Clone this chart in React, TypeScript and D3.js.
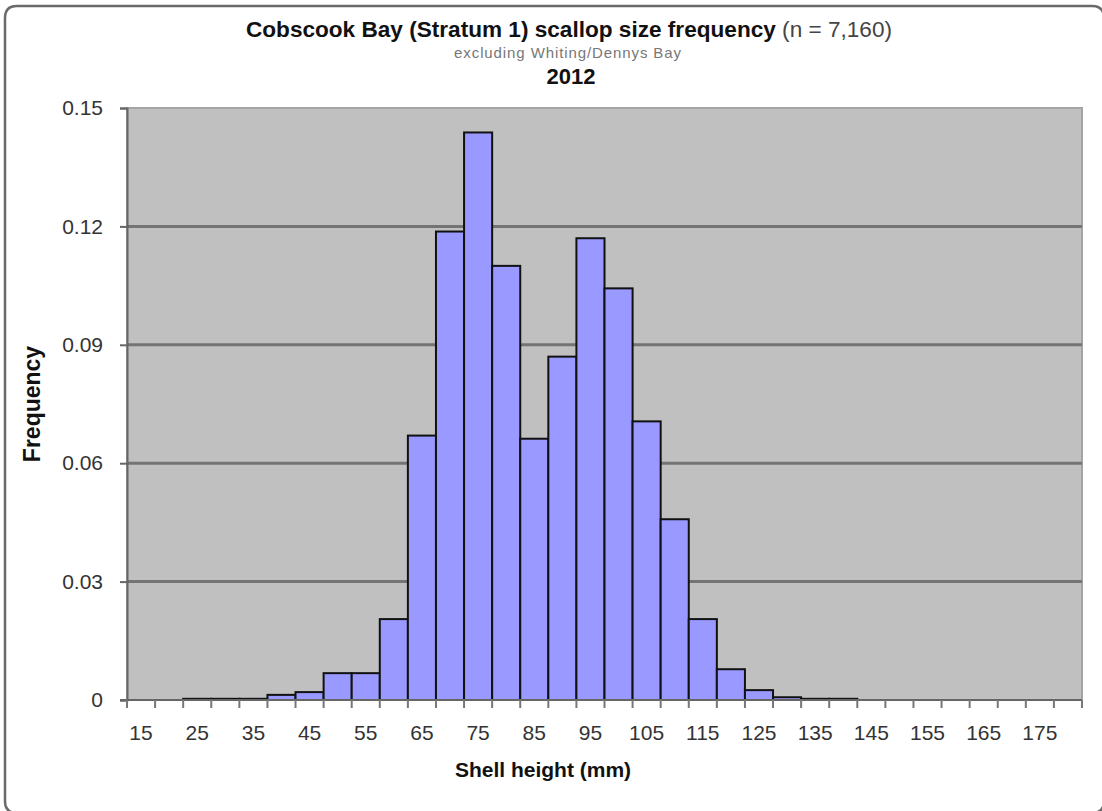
import React, { useEffect, useRef } from "react";
import * as d3 from "d3";

// shell height bins (mm) and their frequency
const bins = [15, 20, 25, 30, 35, 40, 45, 50, 55, 60, 65, 70, 75, 80, 85, 90, 95, 100, 105, 110, 115, 120, 125, 130, 135, 140, 145, 150, 155, 160, 165, 170, 175, 180];
const freq = [0, 0, 0.0003, 0.0003, 0.0003, 0.0013, 0.002, 0.0068, 0.0068, 0.0205, 0.067, 0.1187, 0.1438, 0.11, 0.0662, 0.087, 0.117, 0.1043, 0.0706, 0.0458, 0.0205, 0.0078, 0.0025, 0.0007, 0.0003, 0.0003, 0, 0, 0, 0, 0, 0, 0, 0];
const yTicks = [0, 0.03, 0.06, 0.09, 0.12, 0.15];

const W = 1102;
const H = 811;
const FONT = "Arial, 'Liberation Sans', sans-serif";

export default function App() {
  const ref = useRef<SVGSVGElement>(null);

  useEffect(() => {
    const svg = d3.select(ref.current);
    svg.selectAll("*").remove();

    const margin = { top: 108, left: 127, right: 20, bottom: 111 };
    const width = W - margin.left - margin.right;
    const height = H - margin.top - margin.bottom;

    // outer chart frame (right and bottom edges fall just outside the picture, like the original crop)
    const fr = W + 2;
    const fb = H + 2;
    svg.append("path")
      .attr("d", `M5,18 Q5,6 17,6 L${fr - 12},6 Q${fr},6 ${fr},18 L${fr},${fb - 12} Q${fr},${fb} ${fr - 12},${fb} L17,${fb} Q5,${fb} 5,${fb - 12} Z`)
      .attr("fill", "#fff")
      .attr("stroke", "#6a6a6a")
      .attr("stroke-width", 2.5);

    const g = svg.append("g").attr("transform", `translate(${margin.left},${margin.top})`);

    const x = d3.scaleBand<number>().domain(bins).range([0, width]).padding(0);
    const y = d3.scaleLinear().domain([0, 0.15]).range([height, 0]);

    g.append("rect")
      .attr("width", width).attr("height", height)
      .attr("fill", "#c0c0c0")
      .attr("stroke", "#a4a4a4")
      .attr("stroke-width", 2);

    g.append("g")
      .selectAll("line")
      .data(yTicks.slice(1, -1))
      .join("line")
      .attr("x1", 0).attr("x2", width)
      .attr("y1", (d) => y(d)).attr("y2", (d) => y(d))
      .attr("stroke", "#747474")
      .attr("stroke-width", 3);

    g.append("g")
      .selectAll("rect")
      .data(bins.map((b, i) => ({ b, v: freq[i] })).filter((d) => d.v > 0))
      .join("rect")
      .attr("x", (d) => x(d.b)!)
      .attr("width", x.bandwidth())
      .attr("y", (d) => y(d.v))
      .attr("height", (d) => height - y(d.v))
      .attr("fill", "#9999ff")
      .attr("stroke", "#111")
      .attr("stroke-width", 2);

    // y axis
    const yAxis = g.append("g")
      .call(d3.axisLeft(y).tickValues(yTicks).tickFormat((d) => (d === 0 ? "0" : d3.format(".2f")(d as number))).tickSize(7).tickPadding(17));
    yAxis.select(".domain").attr("stroke", "#666").attr("stroke-width", 2);
    yAxis.selectAll(".tick line").attr("stroke", "#666").attr("stroke-width", 2);
    yAxis.selectAll("text")
      .attr("font-family", FONT)
      .attr("font-size", 21)
      .attr("fill", "#333");

    // x axis: tick at every bin edge, label on every other bin
    const xAxisG = g.append("g").attr("transform", `translate(0,${height})`);
    xAxisG.append("line")
      .attr("x1", -7).attr("x2", width)
      .attr("stroke", "#666").attr("stroke-width", 2);
    xAxisG.selectAll("line.edge")
      .data(d3.range(bins.length + 1))
      .join("line")
      .attr("class", "edge")
      .attr("x1", (i) => i * x.step()).attr("x2", (i) => i * x.step())
      .attr("y1", 0).attr("y2", 8)
      .attr("stroke", "#777").attr("stroke-width", 2);
    xAxisG.selectAll("text")
      .data(bins.filter((b, i) => i % 2 === 0))
      .join("text")
      .attr("x", (d) => x(d)! + x.bandwidth() / 2)
      .attr("y", 40)
      .attr("text-anchor", "middle")
      .attr("font-family", FONT)
      .attr("font-size", 21)
      .attr("fill", "#333")
      .text((d) => d);

    // titles
    const title = svg.append("text")
      .attr("x", 569).attr("y", 37)
      .attr("text-anchor", "middle")
      .attr("font-family", FONT)
      .attr("font-size", 22.6)
      .attr("fill", "#111");
    title.append("tspan").attr("font-weight", "bold").text("Cobscook Bay (Stratum 1) scallop size frequency ");
    title.append("tspan").attr("fill", "#444").text("(n = 7,160)");

    svg.append("text")
      .attr("x", 568).attr("y", 58)
      .attr("text-anchor", "middle")
      .attr("font-family", FONT)
      .attr("font-size", 15)
      .attr("letter-spacing", 0.9)
      .attr("fill", "#777")
      .text("excluding Whiting/Dennys Bay");

    svg.append("text")
      .attr("x", 571).attr("y", 84)
      .attr("text-anchor", "middle")
      .attr("font-family", FONT)
      .attr("font-size", 22)
      .attr("font-weight", "bold")
      .attr("fill", "#111")
      .text("2012");

    svg.append("text")
      .attr("transform", `translate(40,${margin.top + height / 2}) rotate(-90)`)
      .attr("text-anchor", "middle")
      .attr("font-family", FONT)
      .attr("font-size", 23)
      .attr("font-weight", "bold")
      .attr("fill", "#111")
      .text("Frequency");

    svg.append("text")
      .attr("x", 543).attr("y", 777)
      .attr("text-anchor", "middle")
      .attr("font-family", FONT)
      .attr("font-size", 21)
      .attr("font-weight", "bold")
      .attr("fill", "#111")
      .text("Shell height (mm)");
  }, []);

  return (
    <svg ref={ref} width={W} height={H} style={{ display: "block", position: "absolute", left: 0, top: 0 }} />
  );
}
